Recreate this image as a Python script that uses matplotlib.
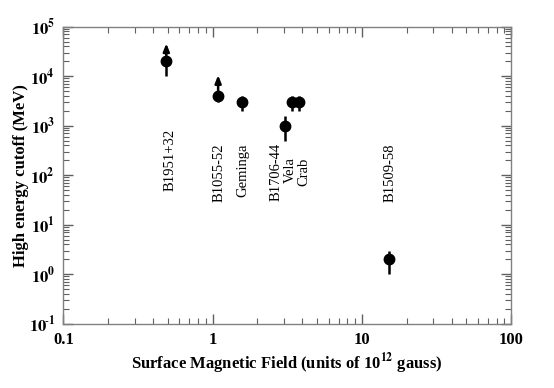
import matplotlib
matplotlib.use("Agg")
import matplotlib.pyplot as plt
from matplotlib.ticker import LogLocator, FuncFormatter, NullFormatter
import numpy as np

plt.rcParams['font.family'] = ['Liberation Serif', 'DejaVu Serif']
plt.rcParams['mathtext.fontset'] = 'stix'

names = ["B1951+32", "B1055-52", "Geminga", "B1706-44", "Vela", "Crab", "B1509-58"]
field = [0.49, 1.09, 1.58, 3.07, 3.4, 3.8, 15.3]
cutoff = [20000, 4000, 3000, 1000, 3000, 3000, 2.0]
err_lo = [10000, 3000, 2000, 500, 2000, 2000, 1.0]
err_hi = [20000, 4000, 4000, 1600, 4000, 4000, 3.0]
arrow_tip = [46000, 10500, None, None, None, None, None]

# label anchor (top of rotated text) in data coords
label_x = [0.52, 1.1, 1.6, 2.66, 3.32, 4.12, 15.6]
label_top = [850, 440, 440, 440, 230, 230, 440]

fig = plt.figure(figsize=(5.54, 3.88), dpi=100)
ax = fig.add_axes([0.1143, 0.1657, 0.8081, 0.7655])
ax.set_xscale('log')
ax.set_yscale('log')
ax.set_xlim(0.1, 100)
ax.set_ylim(0.1, 1e5)

for i in range(len(names)):
    ax.plot([field[i], field[i]], [err_lo[i], err_hi[i]], color='black', lw=1.8,
            solid_capstyle='butt', zorder=3)
    ax.plot(field[i], cutoff[i], 'o', color='black', markersize=7.5, zorder=4)
    if arrow_tip[i] is not None:
        ax.annotate('', xy=(field[i], arrow_tip[i]), xytext=(field[i], cutoff[i]),
                    arrowprops=dict(arrowstyle='-|>,head_length=0.45,head_width=0.18',
                                    color='black', lw=1.8, shrinkA=0, shrinkB=0),
                    zorder=3)
    ax.text(label_x[i], label_top[i], names[i], rotation=90, ha='center', va='top',
            fontsize=10.5, color='black')

for s in ax.spines.values():
    s.set_color('#808080')
    s.set_linewidth(1.0)

ax.xaxis.set_major_locator(LogLocator(base=10, numticks=10))
ax.yaxis.set_major_locator(LogLocator(base=10, numticks=10))
ax.xaxis.set_minor_locator(LogLocator(base=10, subs=np.arange(2, 10), numticks=10))
ax.yaxis.set_minor_locator(LogLocator(base=10, subs=np.arange(2, 10), numticks=10))
ax.xaxis.set_minor_formatter(NullFormatter())
ax.yaxis.set_minor_formatter(NullFormatter())

def xfmt(v, pos):
    if v < 1:
        return '%g' % v
    return '%d' % int(round(v))

def yfmt(v, pos):
    e = int(round(np.log10(v)))
    return r'$\mathbf{10^{%s}}$' % (str(e) if e >= 0 else '\\!\\text{-}%d' % (-e))

ax.xaxis.set_major_formatter(FuncFormatter(xfmt))
ax.yaxis.set_major_formatter(FuncFormatter(yfmt))

ax.tick_params(which='both', direction='in', top=True, right=True, color='#606060')
ax.tick_params(which='major', length=7, width=1.0, labelsize=12, pad=6)
ax.tick_params(which='minor', length=4, width=0.8)
for lab in ax.get_xticklabels():
    lab.set_fontweight('bold')

ax.set_xlabel(r'Surface Magnetic Field (units of 10$^{\mathbf{12}}$ gauss)',
              fontsize=12, fontweight='bold', labelpad=2)
ax.set_ylabel('High energy cutoff (MeV)', fontsize=12, fontweight='bold', labelpad=0)

fig.savefig('out.png', dpi=100)
